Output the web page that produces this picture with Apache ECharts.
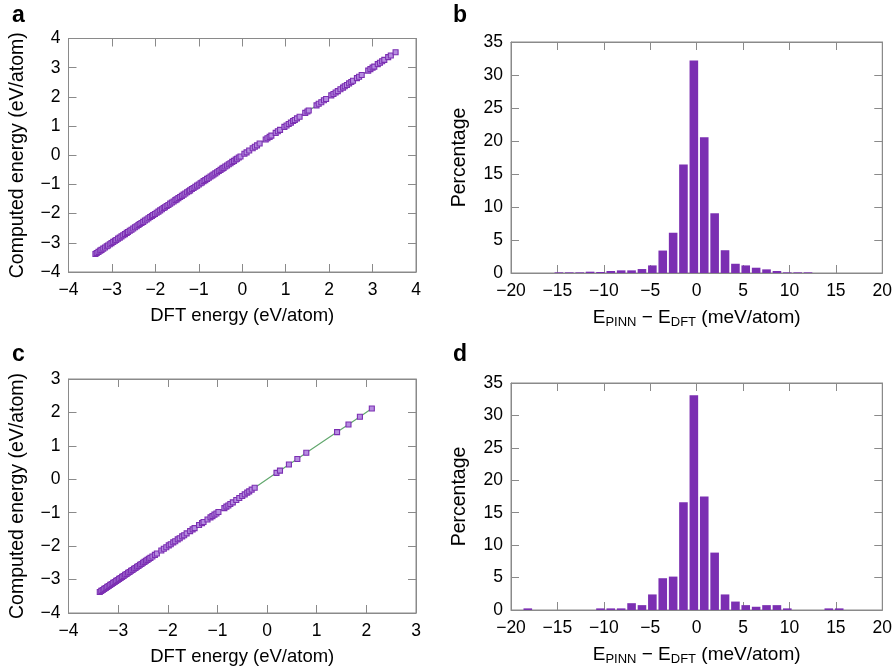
<!DOCTYPE html>
<html>
<head>
<meta charset="utf-8">
<script src="https://cdn.jsdelivr.net/npm/echarts@6/dist/echarts.min.js"></script>
<style>
  html, body { margin: 0; padding: 0; background: #fff; }
  #chart { width: 895px; height: 667px; }
</style>
</head>
<body>
<div id="chart"></div>
<script>
// Panel a: training set, DFT vs computed energy (eV/atom)
var dftA = [-3.38, -3.35, -3.31, -3.27, -3.24, -3.20, -3.16, -3.12, -3.09, -3.05, -3.01, -2.97, -2.93, -2.90, -2.86, -2.82, -2.78, -2.74, -2.70, -2.66, -2.63, -2.59, -2.55, -2.51, -2.47, -2.43, -2.39, -2.36, -2.32, -2.28, -2.24, -2.20, -2.16, -2.12, -2.08, -2.05, -2.01, -1.97, -1.93, -1.89, -1.85, -1.81, -1.78, -1.74, -1.70, -1.66, -1.62, -1.58, -1.54, -1.51, -1.47, -1.43, -1.39, -1.35, -1.31, -1.27, -1.23, -1.20, -1.16, -1.12, -1.08, -1.04, -1.00, -0.96, -0.93, -0.89, -0.85, -0.81, -0.77, -0.73, -0.69, -0.66, -0.62, -0.58, -0.54, -0.50, -0.46, -0.43, -0.39, -0.35, -0.31, -0.27, -0.23, -0.19, -0.15, -0.12, -0.08, -0.04, 0.05, 0.10, 0.16, 0.24, 0.29, 0.34, 0.40, 0.54, 0.58, 0.63, 0.67, 0.77, 0.82, 0.87, 0.97, 1.02, 1.07, 1.12, 1.17, 1.21, 1.26, 1.32, 1.45, 1.50, 1.53, 1.71, 1.76, 1.82, 1.88, 1.93, 2.05, 2.10, 2.15, 2.20, 2.26, 2.32, 2.36, 2.41, 2.46, 2.51, 2.55, 2.64, 2.69, 2.75, 2.90, 2.95, 3.00, 3.04, 3.12, 3.17, 3.22, 3.27, 3.36, 3.42, 3.53];
var pinnA = [-3.382, -3.347, -3.312, -3.268, -3.243, -3.198, -3.161, -3.118, -3.092, -3.048, -3.012, -2.968, -2.931, -2.903, -2.858, -2.821, -2.779, -2.742, -2.703, -2.658, -2.632, -2.588, -2.551, -2.512, -2.468, -2.431, -2.392, -2.357, -2.321, -2.283, -2.238, -2.202, -2.161, -2.118, -2.083, -2.048, -2.012, -1.968, -1.932, -1.888, -1.852, -1.809, -1.782, -1.738, -1.702, -1.658, -1.621, -1.583, -1.538, -1.512, -1.468, -1.431, -1.392, -1.348, -1.312, -1.268, -1.231, -1.202, -1.158, -1.121, -1.078, -1.042, -1.003, -0.958, -0.932, -0.888, -0.851, -0.808, -0.772, -0.728, -0.692, -0.658, -0.621, -0.583, -0.538, -0.502, -0.458, -0.432, -0.388, -0.352, -0.308, -0.272, -0.228, -0.192, -0.148, -0.122, -0.078, -0.042, 0.052, 0.098, 0.162, 0.238, 0.292, 0.338, 0.402, 0.538, 0.582, 0.628, 0.672, 0.768, 0.822, 0.868, 0.972, 1.018, 1.072, 1.118, 1.172, 1.208, 1.262, 1.318, 1.452, 1.498, 1.532, 1.708, 1.762, 1.818, 1.882, 1.928, 2.052, 2.098, 2.152, 2.198, 2.262, 2.318, 2.362, 2.408, 2.462, 2.508, 2.552, 2.642, 2.688, 2.752, 2.898, 2.952, 3.002, 3.038, 3.122, 3.168, 3.222, 3.268, 3.362, 3.418, 3.528];

// Panel c: test set, DFT vs computed energy (eV/atom)
var dftC = [-3.37, -3.34, -3.31, -3.28, -3.25, -3.22, -3.19, -3.16, -3.13, -3.10, -3.07, -3.04, -3.01, -2.98, -2.95, -2.92, -2.89, -2.86, -2.83, -2.80, -2.77, -2.74, -2.71, -2.68, -2.65, -2.62, -2.59, -2.56, -2.53, -2.50, -2.47, -2.44, -2.41, -2.38, -2.35, -2.31, -2.26, -2.22, -2.13, -2.08, -2.03, -1.98, -1.94, -1.89, -1.85, -1.80, -1.76, -1.71, -1.67, -1.62, -1.55, -1.50, -1.46, -1.37, -1.31, -1.28, -1.20, -1.14, -1.10, -1.06, -1.02, -0.98, -0.86, -0.82, -0.78, -0.74, -0.69, -0.62, -0.56, -0.50, -0.45, -0.40, -0.36, -0.31, -0.25, 0.19, 0.26, 0.44, 0.61, 0.79, 1.41, 1.64, 1.87, 2.11];
var pinnC = [-3.372, -3.338, -3.312, -3.278, -3.252, -3.218, -3.192, -3.158, -3.132, -3.098, -3.072, -3.038, -3.012, -2.978, -2.952, -2.918, -2.892, -2.858, -2.832, -2.798, -2.772, -2.738, -2.712, -2.678, -2.652, -2.618, -2.592, -2.558, -2.532, -2.498, -2.472, -2.438, -2.412, -2.378, -2.352, -2.308, -2.262, -2.218, -2.132, -2.078, -2.032, -1.978, -1.942, -1.888, -1.852, -1.798, -1.762, -1.708, -1.672, -1.618, -1.552, -1.498, -1.462, -1.368, -1.312, -1.278, -1.202, -1.138, -1.102, -1.058, -1.022, -0.978, -0.862, -0.818, -0.782, -0.738, -0.692, -0.618, -0.562, -0.498, -0.452, -0.398, -0.362, -0.308, -0.252, 0.192, 0.258, 0.442, 0.608, 0.792, 1.412, 1.638, 1.872, 2.118];

// Panels b and d: histogram of E_PINN - E_DFT (meV/atom), bin centres and percentages
var binsB = [-14.84, -13.72, -12.60, -11.48, -10.36, -9.25, -8.13, -7.01, -5.89, -4.77, -3.65, -2.53, -1.42, -0.30, 0.82, 1.94, 3.06, 4.18, 5.29, 6.41, 7.53, 8.65, 9.77, 10.89, 12.00];
var pctB = [0.1, 0.1, 0.1, 0.2, 0.15, 0.3, 0.4, 0.4, 0.6, 1.15, 3.4, 6.1, 16.45, 32.2, 20.55, 9.05, 3.45, 1.4, 1.15, 0.8, 0.55, 0.3, 0.1, 0.1, 0.1];
var binsD = [-18.19, -10.36, -9.25, -8.13, -7.01, -5.89, -4.77, -3.65, -2.53, -1.42, -0.30, 0.82, 1.94, 3.06, 4.18, 5.29, 6.41, 7.53, 8.65, 9.77, 14.24, 15.36];
var pctD = [0.25, 0.25, 0.25, 0.25, 1.05, 0.75, 2.4, 4.9, 5.15, 16.6, 33.1, 17.5, 8.85, 2.4, 1.3, 0.75, 0.5, 0.75, 0.75, 0.25, 0.25, 0.25];

var FONT = "'Liberation Sans', Arial, Helvetica, sans-serif";
var AXIS_GREY = '#8a8a8a';
var PURPLE = '#7b2fb2';
var GREEN = '#62a86e';

function pairs(xs, ys) {
  return xs.map(function (x, i) { return [x, ys[i]]; });
}
function minusFmt(v) {
  return String(v).replace('-', '\u2212');
}

var grids = [
  { left: 68.5, top: 38.5, width: 347.5, height: 233.5 },
  { left: 511, top: 42, width: 373, height: 231 },
  { left: 68.5, top: 379, width: 347.5, height: 234.5 },
  { left: 511, top: 383, width: 373, height: 231 }
];
grids.forEach(function (g) {
  g.show = true;
  g.borderColor = AXIS_GREY;
  g.borderWidth = 1;
  g.backgroundColor = 'transparent';
});

function mainAxis(gridIndex, pos, min, max, interval, name, nameGap, isY) {
  var nameSize = isY ? 19.5 : 18.5;
  return {
    type: 'value', gridIndex: gridIndex, position: pos,
    min: min, max: max, interval: interval,
    name: name, nameLocation: 'middle', nameGap: nameGap,
    nameRotate: isY ? 90 : 0,
    nameTextStyle: { fontFamily: FONT, fontSize: nameSize, color: '#000',
      rich: {
        n: { fontFamily: FONT, fontSize: 19, color: '#000' },
        s: { fontFamily: FONT, fontSize: 13, color: '#000', padding: [10, 0, 0, 0] }
      } },
    axisLine: { show: true, onZero: false, lineStyle: { color: AXIS_GREY, width: 1 } },
    axisTick: { show: true, inside: true, length: 8, lineStyle: { color: AXIS_GREY } },
    axisLabel: { show: true, fontFamily: FONT, fontSize: 17.5, color: '#000',
      margin: isY ? 8 : 9, formatter: minusFmt },
    splitLine: { show: false }
  };
}
function mirrorAxis(gridIndex, pos, min, max, interval) {
  return {
    type: 'value', gridIndex: gridIndex, position: pos,
    min: min, max: max, interval: interval,
    axisLine: { show: true, onZero: false, lineStyle: { color: AXIS_GREY, width: 1 } },
    axisTick: { show: true, inside: true, length: 8, lineStyle: { color: AXIS_GREY } },
    axisLabel: { show: false },
    splitLine: { show: false }
  };
}

var histName = '{n|E}{s|PINN}{n| \u2212 E}{s|DFT}{n| (meV/atom)}';

var xAxes = [
  mainAxis(0, 'bottom', -4, 4, 1, 'DFT energy (eV/atom)', 34, false),
  mainAxis(1, 'bottom', -20, 20, 5, histName, 33, false),
  mainAxis(2, 'bottom', -4, 3, 1, 'DFT energy (eV/atom)', 34, false),
  mainAxis(3, 'bottom', -20, 20, 5, histName, 33, false),
  mirrorAxis(0, 'top', -4, 4, 1),
  mirrorAxis(1, 'top', -20, 20, 5),
  mirrorAxis(2, 'top', -4, 3, 1),
  mirrorAxis(3, 'top', -20, 20, 5)
];
var yAxes = [
  mainAxis(0, 'left', -4, 4, 1, 'Computed energy (eV/atom)', 41, true),
  mainAxis(1, 'left', 0, 35, 5, 'Percentage', 41, true),
  mainAxis(2, 'left', -4, 3, 1, 'Computed energy (eV/atom)', 41, true),
  mainAxis(3, 'left', 0, 35, 5, 'Percentage', 41, true),
  mirrorAxis(0, 'right', -4, 4, 1),
  mirrorAxis(1, 'right', 0, 35, 5),
  mirrorAxis(2, 'right', -4, 3, 1),
  mirrorAxis(3, 'right', 0, 35, 5)
];

function parity(idx, xs, ys) {
  return {
    type: 'line', xAxisIndex: idx, yAxisIndex: idx,
    data: pairs(xs, ys),
    symbol: 'rect', symbolSize: 5, showSymbol: true, showAllSymbol: true,
    lineStyle: { color: GREEN, width: 1.2 },
    itemStyle: { color: '#b68ce0', borderColor: PURPLE, borderWidth: 1.1 },
    emphasis: { disabled: true },
    animation: false, z: 3
  };
}
function hist(idx, xs, ys) {
  return {
    type: 'bar', xAxisIndex: idx, yAxisIndex: idx,
    data: pairs(xs, ys), barWidth: 8.6,
    itemStyle: { color: PURPLE },
    emphasis: { disabled: true },
    animation: false
  };
}

function panelLabel(t, x, y) {
  return { type: 'text', left: x, top: y,
    style: { text: t, font: 'bold 23px ' + FONT, fill: '#000' } };
}

var chart = echarts.init(document.getElementById('chart'), null, { renderer: 'canvas' });
chart.setOption({
  backgroundColor: '#fff',
  animation: false,
  grid: grids,
  xAxis: xAxes,
  yAxis: yAxes,
  series: [
    parity(0, dftA, pinnA),
    hist(1, binsB, pctB),
    parity(2, dftC, pinnC),
    hist(3, binsD, pctD)
  ],
  graphic: [
    panelLabel('a', 12, 4),
    panelLabel('b', 453, 4),
    panelLabel('c', 12, 343),
    panelLabel('d', 453, 343)
  ]
});
</script>
</body>
</html>
